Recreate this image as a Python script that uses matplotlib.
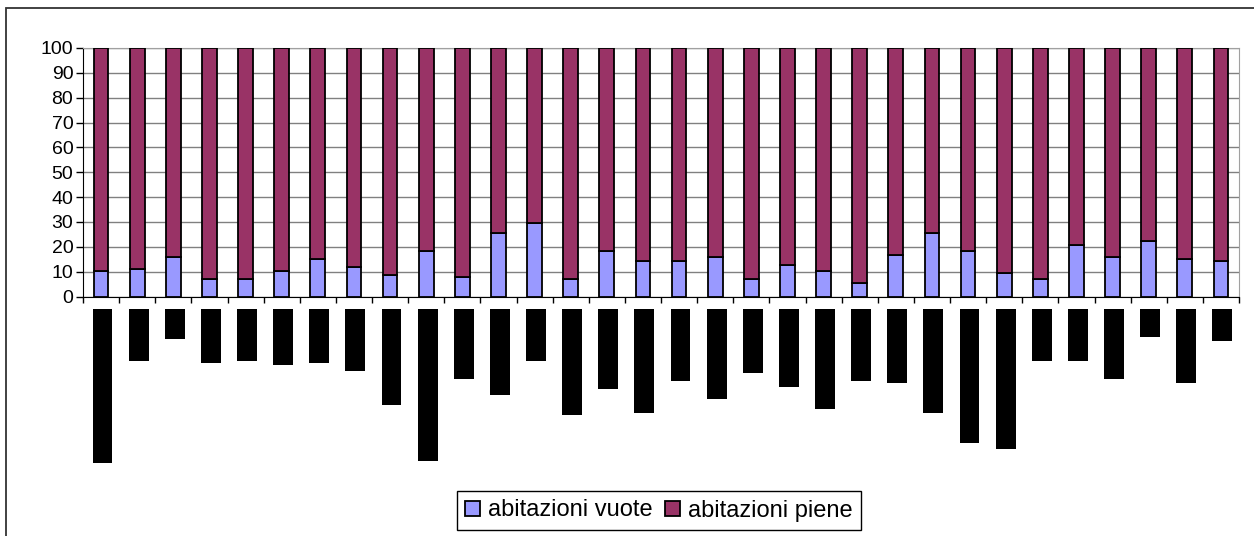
import numpy as np
import matplotlib
matplotlib.use("Agg")
import matplotlib.pyplot as plt
from matplotlib.patches import Rectangle

plt.rcParams['font.family'] = ['Liberation Sans', 'DejaVu Sans']

# percentuale abitazioni vuote per comune (32 comuni)
vuote = [10.2, 11.0, 15.9, 7.0, 7.0, 10.2, 15.2, 12.0, 8.6, 18.3,
         7.8, 25.7, 29.7, 7.0, 18.3, 14.2, 14.2, 15.9, 7.0, 12.6,
         10.2, 5.4, 16.7, 25.7, 18.3, 9.4, 7.0, 20.7, 15.9, 22.3,
         15.1, 14.2]
piene = [100 - v for v in vuote]

# category labels are blacked out in the source; lengths of the black boxes (px)
label_len = [154, 52, 30, 54, 52, 56, 54, 62, 96, 152,
             70, 86, 52, 106, 80, 104, 72, 90, 64, 78,
             100, 72, 74, 104, 134, 140, 52, 52, 70, 28,
             74, 32]

series_names = ["abitazioni vuote", "abitazioni piene"]
c_vuote = "#9999FF"
c_piene = "#993366"

fig = plt.figure(figsize=(12.54, 5.36), dpi=100)

# outer chart border (right and bottom edges fall outside the image)
fig.patches.append(Rectangle((6 / 1254, -0.05), 1.1, 1.05 - 8 / 536,
                             transform=fig.transFigure, fill=False,
                             edgecolor="#333333", linewidth=1.3))

ax = fig.add_axes([83 / 1254, 1 - 296.5 / 536, (1239 - 83) / 1254, (296.5 - 48) / 536])
x = np.arange(len(vuote))
b1 = ax.bar(x, vuote, width=0.41, color=c_vuote, edgecolor="black", linewidth=1.3,
            label=series_names[0], zorder=3)
b2 = ax.bar(x, piene, width=0.41, bottom=vuote, color=c_piene, edgecolor="black",
            linewidth=1.3, label=series_names[1], zorder=3)

ax.set_xlim(-0.5, len(vuote) - 0.5)
ax.set_ylim(0, 100)
ax.set_yticks(range(0, 101, 10))
ax.yaxis.grid(True, color="#808080", linewidth=1.0, zorder=0)
ax.tick_params(axis='y', labelsize=14, length=5, width=1, direction='out', pad=2)
ax.set_xticks(np.arange(len(vuote) + 1) - 0.5)
ax.set_xticklabels([])
ax.tick_params(axis='x', length=4, width=1, direction='out')
for s in ['top', 'right']:
    ax.spines[s].set_color("#a0a0a0")
ax.spines['left'].set_color("black")
ax.spines['bottom'].set_color("black")

# blacked-out category labels
ax2 = fig.add_axes([83 / 1254, 1 - 469 / 536, (1239 - 83) / 1254, 160 / 536])
ax2.bar(x + 0.04, label_len, width=0.55, color="black")
ax2.set_xlim(-0.5, len(vuote) - 0.5)
ax2.set_ylim(160, 0)
ax2.axis('off')

fig.legend(handles=[b1, b2], labels=series_names, loc='center',
           bbox_to_anchor=(659 / 1254, 1 - 510.5 / 536), ncol=2, fontsize=17,
           frameon=True, fancybox=False, edgecolor="black", framealpha=1,
           handlelength=0.62, handleheight=0.62, handletextpad=0.35,
           columnspacing=0.55, borderpad=0.35, borderaxespad=0)

fig.savefig("out.png", dpi=100)
